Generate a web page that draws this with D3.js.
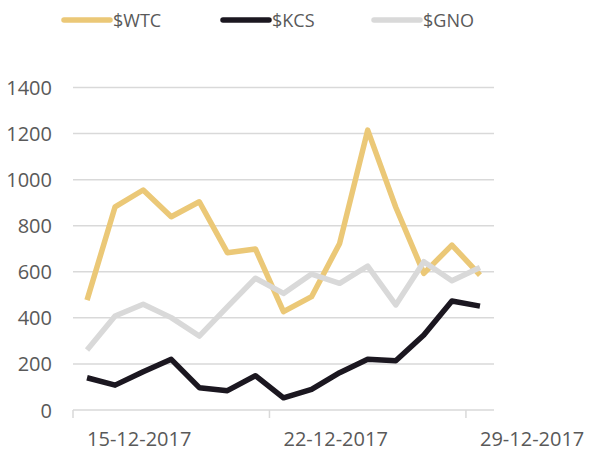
<!DOCTYPE html>
<html><head><meta charset="utf-8">
<script src="https://cdn.jsdelivr.net/npm/d3@7"></script>
<style>body{margin:0;background:#fff}svg{display:block}text{font-family:"Open Sans",sans-serif;fill:#595959}</style>
</head><body><svg id="c" width="590" height="457"></svg>
<script>
const dates = ["15-12-2017","16-12-2017","17-12-2017","18-12-2017","19-12-2017","20-12-2017","21-12-2017","22-12-2017","23-12-2017","24-12-2017","25-12-2017","26-12-2017","27-12-2017","28-12-2017","29-12-2017"];
const labelDates = ["15-12-2017","22-12-2017","29-12-2017"];
const wtc = [477,882,955,839,904,683,699,427,492,723,1215,880,593,716,586];
const kcs = [140,108,166,220,97,84,149,53,90,162,220,214,326,473,451];
const gno = [260,408,459,401,321,448,572,506,590,550,625,456,644,561,619];
const yTicks = [0,200,400,600,800,1000,1200,1400];
const seriesNames = ["$WTC","$KCS","$GNO"];
const colors = ["#EBC877","#1B1720","#D9D9D9"];

const svg = d3.select("#c");
const mLeft = 73, mRight = 494, mTop = 87.5, mBottom = 410;
const x = d3.scaleBand().domain(dates).range([mLeft, mRight]);
const step = x.step();
const xc = d => x(d) + step/2;
const y = d3.scaleLinear().domain([0,1400]).range([mBottom, mTop]);

svg.append("g").selectAll("line").data(yTicks.filter(t=>t>0)).join("line")
  .attr("x1", mLeft).attr("x2", mRight).attr("y1", d=>y(d)).attr("y2", d=>y(d))
  .attr("stroke", "#D9D9D9").attr("stroke-width", 1.5);
svg.append("g").selectAll("text").data(yTicks).join("text")
  .attr("x", 52).attr("y", d=>y(d)+7.5).attr("text-anchor","end")
  .attr("font-size", 20).text(d=>d);
svg.append("line").attr("x1", mLeft).attr("x2", mRight).attr("y1", mBottom).attr("y2", mBottom)
  .attr("stroke","#D9D9D9").attr("stroke-width",1.5);
svg.append("g").selectAll("line").data(labelDates).join("line")
  .attr("x1", d=>x(d)).attr("x2", d=>x(d)).attr("y1", mBottom).attr("y2", mBottom+8)
  .attr("stroke","#D9D9D9").attr("stroke-width",1.5);
svg.append("g").selectAll("text").data(labelDates).join("text")
  .attr("x", d=>xc(d)).attr("y", 446).attr("font-size",20).text(d=>d);

const line = d3.line().x((d,i)=>xc(dates[i])).y(d=>y(d));
[wtc,kcs,gno].forEach((s,i)=>{
  svg.append("path").datum(s).attr("d", line).attr("fill","none")
    .attr("stroke", colors[i]).attr("stroke-width", 5.5).attr("stroke-linejoin","round").attr("stroke-linecap","butt");
});

const legX = [64, 223, 374];
seriesNames.forEach((n,i)=>{
  svg.append("line").attr("x1", legX[i]).attr("x2", legX[i]+46).attr("y1", 20).attr("y2", 20)
    .attr("stroke", colors[i]).attr("stroke-width", 5.5).attr("stroke-linecap","round");
  svg.append("text").attr("x", legX[i]+49).attr("y", 26.5).attr("font-size", 18).text(n);
});
</script></body></html>
